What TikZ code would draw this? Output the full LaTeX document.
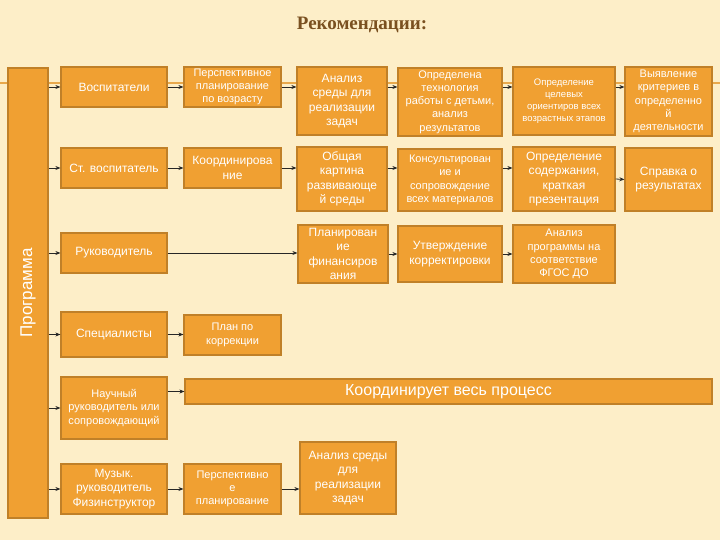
\documentclass[tikz,border=0pt]{standalone}
\usepackage{fontspec}
\setmainfont{Liberation Sans}
\newfontfamily\titlefont{Liberation Serif}
\usepackage{tikz}
\usetikzlibrary{arrows.meta}

\definecolor{bgcream}{HTML}{FDEEC8}
\definecolor{boxfill}{HTML}{F0A032}
\definecolor{boxedge}{HTML}{C08028}
\definecolor{titlebrown}{HTML}{7A5020}
\definecolor{tmplline}{HTML}{E8A84C}

\begin{document}
\begin{tikzpicture}[x=1pt, y=-1pt, >={Stealth[length=5pt,width=4pt]}]
    \tikzstyle{box} = [draw=boxedge, line width=1.2pt, fill=boxfill, text=white, align=center, inner sep=1pt]
    \tikzstyle{big} = [font=\fontsize{12}{14.5}\selectfont]
    \tikzstyle{mid} = [font=\fontsize{11}{13.3}\selectfont]
    \tikzstyle{small} = [font=\fontsize{9.5}{12}\selectfont]
    \tikzstyle{link} = [->, line width=0.8pt, black!85]

    % background
    \fill[bgcream] (0,0) rectangle (720,540);
    \useasboundingbox (0,0) rectangle (720,540);
    \draw[tmplline, line width=2pt] (0,83) -- (720,83);

    \node[text=titlebrown, font=\titlefont\fontsize{19}{22}\selectfont\bfseries] (title) at (362,25) {Рекомендации:};

    % left bar
    \node[box, minimum width=40pt, minimum height=450pt] (prog) at (28,293) {};
    \node[text=white, rotate=90, font=\fontsize{17}{20}\selectfont] (progtxt) at (prog.center) {Программа};

    % first column
    \node[box, big, minimum width=106pt, minimum height=40pt] (vosp) at (114,87) {Воспитатели};
    \node[box, big, minimum width=106pt, minimum height=40pt] (stvosp) at (114,168) {Ст. воспитатель};
    \node[box, big, minimum width=106pt, minimum height=40pt] (ruk) at (114,253) {Руководитель};
    \node[box, big, minimum width=106pt, minimum height=45pt] (spec) at (114,334.5) {Специалисты};
    \node[box, mid, minimum width=106pt, minimum height=62pt] (nauch) at (114,408) {Научный\\руководитель или\\сопровождающий};
    \node[box, big, minimum width=106pt, minimum height=50pt] (muz) at (114,489) {Музык.\\руководитель\\Физинструктор};

    % second column
    \node[box, mid, minimum width=97pt, minimum height=40pt] (perspvoz) at (232.5,87) {Перспективное\\планирование\\по возрасту};
    \node[box, big, minimum width=97pt, minimum height=40pt] (koord) at (232.5,168) {Координирова\\ние};
    \node[box, mid, minimum width=97pt, minimum height=40pt] (plankor) at (232.5,335) {План по\\коррекции};
    \node[box, mid, minimum width=97pt, minimum height=50pt] (perspplan) at (232.5,489) {Перспективно\\е\\планирование};
    \node[box, minimum width=527pt, minimum height=25pt, font=\fontsize{16}{19}\selectfont] (process) at (448.5,391.5) {Координирует весь процесс};

    % third column
    \node[box, big, minimum width=90pt, minimum height=68pt] (analiz) at (342,101) {Анализ\\среды для\\реализации\\задач};
    \node[box, big, minimum width=90pt, minimum height=64pt] (obsh) at (342,179) {Общая\\картина\\развивающе\\й среды};
    \node[box, big, minimum width=90pt, minimum height=58pt] (finans) at (343,254) {Планирован\\ие\\финансиров\\ания};
    \node[box, big, minimum width=96pt, minimum height=72pt] (analizb) at (348,478) {Анализ среды\\для\\реализации\\задач};

    % fourth column
    \node[box, mid, minimum width=104pt, minimum height=68pt] (tehn) at (450,102) {Определена\\технология\\работы с детьми,\\анализ\\результатов};
    \node[box, mid, minimum width=104pt, minimum height=62pt] (konsult) at (450,180) {Консультирован\\ие и\\сопровождение\\всех материалов};
    \node[box, big, minimum width=104pt, minimum height=56pt] (utv) at (450,254) {Утверждение\\корректировки};

    % fifth column
    \node[box, small, minimum width=102pt, minimum height=68pt] (tsel) at (564,101) {Определение\\целевых\\ориентиров всех\\возрастных этапов};
    \node[box, big, minimum width=102pt, minimum height=64pt] (soder) at (564,179) {Определение\\содержания,\\краткая\\презентация};
    \node[box, mid, minimum width=102pt, minimum height=58pt] (analizprog) at (564,254) {Анализ\\программы на\\соответствие\\ФГОС ДО};

    % sixth column
    \node[box, mid, minimum width=87pt, minimum height=69pt] (vyyav) at (668.5,101.5) {Выявление\\критериев в\\определенно\\й\\деятельности};
    \node[box, big, minimum width=87pt, minimum height=63pt] (spravka) at (668.5,179.5) {Справка о\\результатах};

    % from the bar
    \foreach \n in {vosp, stvosp, ruk, spec, nauch, muz}
        \draw[link] (prog.east |- \n.west) -- (\n.west);

    % rows
    \draw[link] (vosp.east) -- (perspvoz.west);
    \draw[link] (perspvoz.east) -- (perspvoz.east -| analiz.west);
    \draw[link] (analiz.east |- perspvoz.east) -- (tehn.west |- perspvoz.east);
    \draw[link] (tehn.east |- perspvoz.east) -- (tsel.west |- perspvoz.east);
    \draw[link] (tsel.east |- perspvoz.east) -- (vyyav.west |- perspvoz.east);

    \draw[link] (stvosp.east) -- (koord.west);
    \draw[link] (koord.east) -- (koord.east -| obsh.west);
    \draw[link] (obsh.east |- koord.east) -- (konsult.west |- koord.east);
    \draw[link] (konsult.east |- koord.east) -- (soder.west |- koord.east);
    \draw[link] (soder.east) -- (spravka.west);

    \draw[link] (ruk.east) -- (ruk.east -| finans.west);
    \draw[link] (finans.east) -- (utv.west);
    \draw[link] (utv.east) -- (analizprog.west);

    \draw[link] (spec.east) -- (spec.east -| plankor.west);
    \draw[link] (nauch.east |- process.west) -- (process.west);
    \draw[link] (muz.east) -- (perspplan.west);
    \draw[link] (perspplan.east) -- (perspplan.east -| analizb.west);
\end{tikzpicture}
\end{document}
